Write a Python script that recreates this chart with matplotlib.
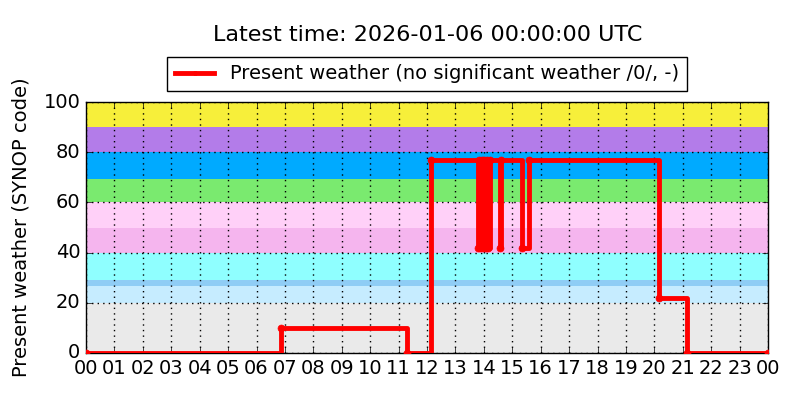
import matplotlib
matplotlib.use("Agg")
import matplotlib.pyplot as plt

plt.style.use("classic")

# Data: hours since 2026-01-05 00:00 UTC and SYNOP present-weather code
hours = [0.0, 6.86, 11.29, 12.14,
         13.80, 13.84, 13.88, 13.93, 13.97, 14.02, 14.06, 14.11, 14.15, 14.22,
         14.56, 14.61,
         15.33, 15.59,
         20.16, 21.15, 24.0]
codes = [0, 10, 0, 77,
         42, 77, 42, 77, 42, 77, 42, 77, 42, 77,
         42, 77,
         42, 77,
         22, 0, 0]

band_edges = [0, 20, 26.5, 29, 40, 50, 60, 69.5, 80, 90, 100]
band_colors = ["#eaeaea", "#c6ecff", "#8fcdf5", "#8fffff", "#f5b5ee",
               "#ffd0f8", "#7aea6f", "#00aaff", "#b37ce9", "#f7ef3a"]

xtick_labels = ["%02d" % (h % 24) for h in range(25)]

fig = plt.figure(figsize=(8, 4), dpi=100, facecolor="white")
ax = fig.add_axes([0.1075, 0.1175, 0.8525, 0.6275])

for lo, hi, c in zip(band_edges[:-1], band_edges[1:], band_colors):
    ax.axhspan(lo, hi, color=c, lw=0, zorder=0)

ax.step(hours, codes, where="post", color="red", lw=3.5, marker="o",
        markersize=5, markeredgecolor="red", markerfacecolor="red",
        label="Present weather (no significant weather /0/, -)", zorder=3)

ax.set_xlim(0, 24)
ax.set_ylim(0, 100)
ax.set_xticks(range(25))
ax.set_xticklabels(xtick_labels, fontsize=14)
ax.set_yticks(range(0, 101, 20))
ax.tick_params(axis="y", labelsize=14)
ax.grid(True, color="black", linestyle=":", linewidth=1)
ax.set_ylabel("Present weather (SYNOP code)", fontsize=14)
ax.yaxis.set_label_coords(-0.082, 0.5)

fig.text(0.534, 0.912, "Latest time: 2026-01-06 00:00:00 UTC", fontsize=16,
         ha="center", va="center")
ax.legend(loc="lower center", bbox_to_anchor=(0.5, 1.02), numpoints=1,
          fontsize=14, fancybox=False, borderaxespad=0.3, markerscale=0.6)

fig.savefig("out.png", dpi=100, facecolor="white")
